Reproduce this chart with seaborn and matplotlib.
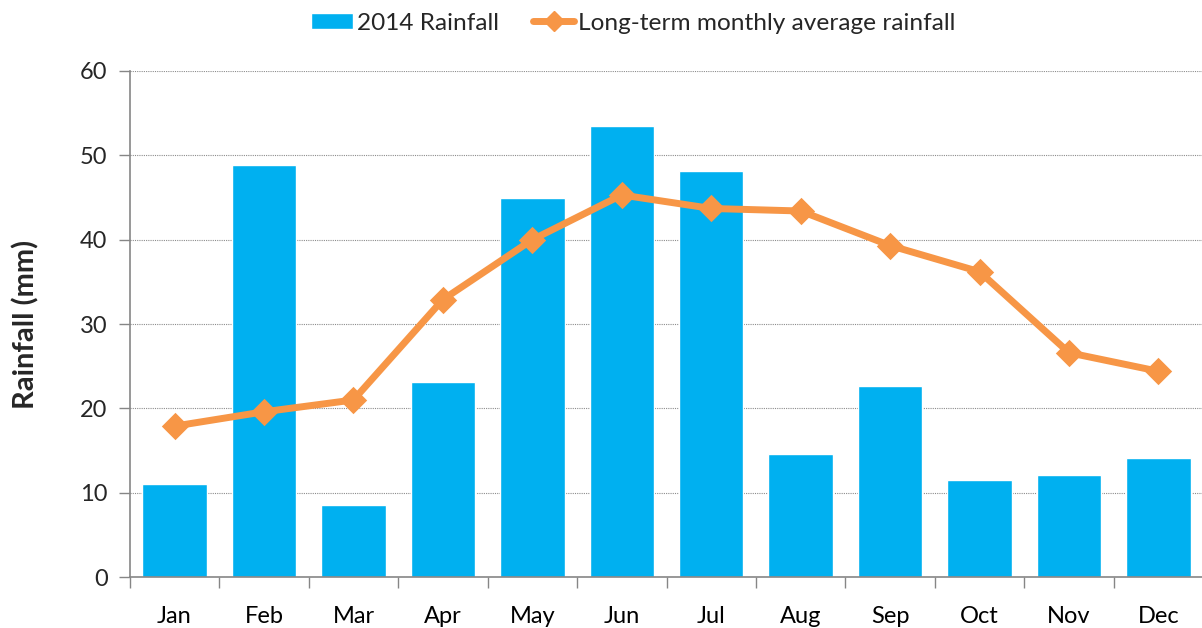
import pandas as pd
import seaborn as sns
import matplotlib.pyplot as plt
from matplotlib.patches import Patch
from matplotlib.lines import Line2D

# Data
months = ['Jan', 'Feb', 'Mar', 'Apr', 'May', 'Jun', 'Jul', 'Aug', 'Sep', 'Oct', 'Nov', 'Dec']
rain_2014 = [11.0, 48.9, 8.5, 23.1, 45.0, 53.5, 48.2, 14.6, 22.7, 11.5, 12.1, 14.1]
rain_longterm = [17.9, 19.6, 21.0, 32.9, 40.0, 45.3, 43.7, 43.4, 39.3, 36.2, 26.6, 24.4]

df = pd.DataFrame({'month': months, 'rain_2014': rain_2014, 'longterm': rain_longterm})

bar_color = '#00B0F0'
line_color = '#F79646'

sns.set_style('white')
plt.rcParams['font.family'] = ['Lato', 'DejaVu Sans']

fig = plt.figure(figsize=(12.02, 6.28), dpi=100)
ax = fig.add_axes([0.108, 0.081, 0.893, 0.806])

sns.barplot(data=df, x='month', y='rain_2014', color=bar_color, width=0.72,
            saturation=1, ax=ax, zorder=2)
sns.pointplot(data=df, x='month', y='longterm', color=line_color, markers='D',
              linestyles='-', errorbar=None, ax=ax, zorder=3,
              markersize=10, linewidth=5)

ax.set_xlim(-0.5, 11.5)
ax.set_ylim(0, 60)
ax.set_yticks(range(0, 61, 10))
ax.yaxis.grid(True, linestyle=(0, (1, 1)), color='#8c8c8c', linewidth=0.8, zorder=0)
ax.set_axisbelow(True)

# category boundary ticks on x
ax.set_xticks([i - 0.5 for i in range(13)], minor=True)
ax.tick_params(axis='x', which='major', length=0, pad=21, labelsize=17, labelcolor='black')
ax.tick_params(axis='x', which='minor', length=8, width=1, color='#868686', direction='out', bottom=True)
ax.tick_params(axis='y', length=8, width=1, color='#868686', direction='out', left=True,
               pad=8, labelsize=17)

for side in ['top', 'right']:
    ax.spines[side].set_visible(False)
for side in ['left', 'bottom']:
    ax.spines[side].set_color('#868686')
    ax.spines[side].set_linewidth(1.2)

ax.set_xlabel('')
ax.set_ylabel('Rainfall (mm)', fontsize=21, fontweight='bold', labelpad=29)

handles = [
    Patch(facecolor=bar_color, label='2014 Rainfall'),
    Line2D([0], [0], color=line_color, linewidth=5, marker='D', markersize=10,
           label='Long-term monthly average rainfall'),
]
fig.legend(handles=handles, loc='upper center', bbox_to_anchor=(0.527, 1.015), ncol=2,
           frameon=False, fontsize=17.6, handlelength=1.7, handleheight=0.6,
           columnspacing=1.4, handletextpad=0.15)

fig.savefig('out.png', dpi=100)
